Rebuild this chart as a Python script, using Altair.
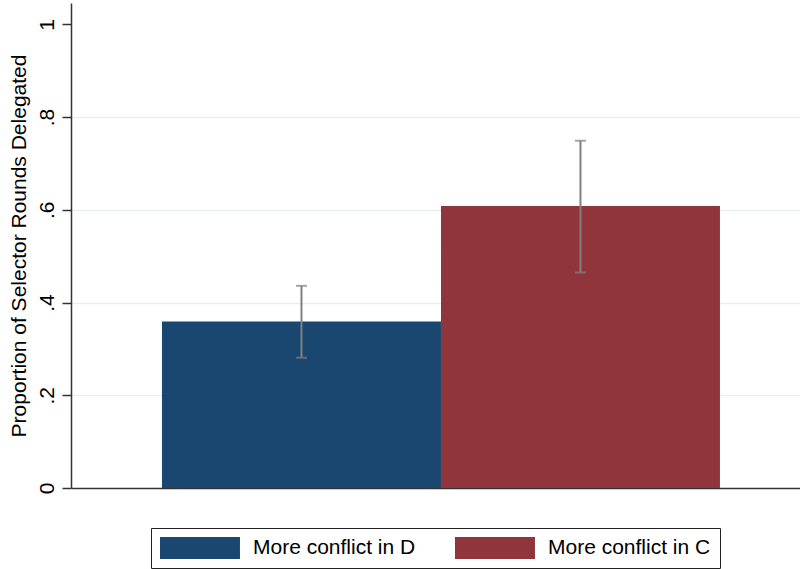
import altair as alt
import pandas as pd

# Group means with 95% confidence intervals
groups = ["More conflict in D", "More conflict in C"]
means = [0.359, 0.608]
ci_low = [0.281, 0.465]
ci_high = [0.436, 0.749]
colors = ["#1a476f", "#90353b"]

y_ticks = [0, 0.2, 0.4, 0.6, 0.8, 1]

df = pd.DataFrame({"group": groups, "mean": means, "lo": ci_low, "hi": ci_high})

FONT = "Liberation Sans"

x_enc = alt.X(
    "group:N",
    sort=groups,
    scale=alt.Scale(paddingInner=0, paddingOuter=0.3065, align=0.532),
    axis=alt.Axis(labels=False, ticks=False, title=None, grid=False,
                  domainColor="#333333", domainWidth=1.5),
)

y_scale = alt.Scale(domain=[0, 1.046], nice=False, zero=True)

bars = alt.Chart(df).mark_bar().encode(
    x=x_enc,
    y=alt.Y(
        "mean:Q",
        scale=y_scale,
        axis=alt.Axis(
            title="Proportion of Selector Rounds Delegated",
            values=y_ticks,
            labelExpr="datum.value == 0 ? '0' : datum.value == 1 ? '1' : replace(format(datum.value, '.1f'), '0.', '.')",
            labelAngle=270,
            labelAlign="center",
            labelBaseline="bottom",
            labelPadding=5,
            labelFontSize=21,
            labelFont=FONT,
            labelColor="#000000",
            tickSize=9,
            tickColor="#333333",
            tickWidth=1.5,
            domainColor="#333333",
            domainWidth=1.5,
            grid=True,
            gridColor=alt.condition("datum.value == 0 || datum.value == 1",
                                    alt.value("transparent"), alt.value("#e8eff2")),
            gridWidth=1.5,
            titleFont=FONT,
            titleFontSize=21,
            titleFontWeight="normal",
            titleColor="#000000",
            titleX=-42,
            titleBaseline="bottom",
        ),
    ),
    color=alt.Color(
        "group:N",
        sort=groups,
        scale=alt.Scale(domain=groups, range=colors),
        legend=alt.Legend(
            title=None,
            orient="none",
            legendX=80,
            legendY=525,
            direction="horizontal",
            symbolType="M-1,-1H6.27V1H-1Z",
            symbolSize=484,
            symbolStrokeWidth=0,
            symbolOpacity=1,
            labelOffset=71,
            labelLimit=0,
            columnPadding=39,
            labelFont=FONT,
            labelFontSize=21,
            labelColor="#000000",
            padding=9,
            strokeColor="#222222",
            fillColor="#ffffff",
        ),
    ),
)

whisker = alt.Chart(df).mark_rule(color="#808080", strokeWidth=2).encode(
    x=alt.X("group:N", sort=groups),
    y=alt.Y("lo:Q", scale=y_scale),
    y2="hi:Q",
)

cap_lo = alt.Chart(df).mark_tick(color="#808080", size=11, thickness=2).encode(
    x=alt.X("group:N", sort=groups),
    y=alt.Y("lo:Q", scale=y_scale),
)

cap_hi = alt.Chart(df).mark_tick(color="#808080", size=11, thickness=2).encode(
    x=alt.X("group:N", sort=groups),
    y=alt.Y("hi:Q", scale=y_scale),
)

chart = (
    alt.layer(bars, whisker, cap_lo, cap_hi)
    .properties(
        width=729,
        height=485,
        autosize=alt.AutoSizeParams(type="none"),
        padding={"left": 71, "top": 3, "right": 0, "bottom": 81},
        background="#ffffff",
    )
    .configure_view(stroke=None)
)

chart.save("out.html", embed_options={"renderer": "svg", "actions": False})
